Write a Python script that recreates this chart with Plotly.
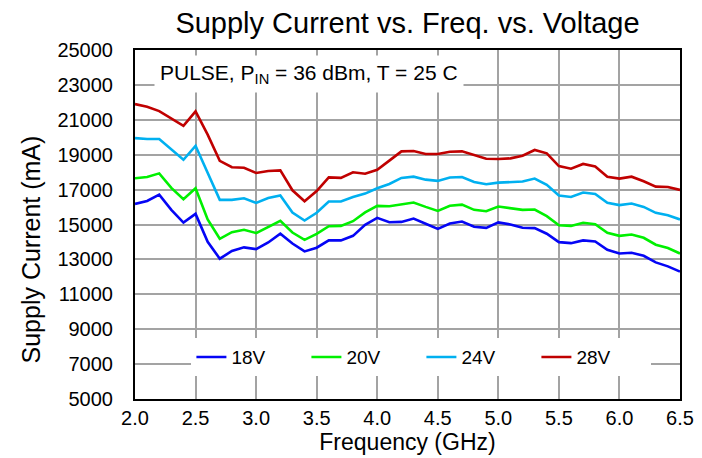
import plotly.graph_objects as go

freq = [2.0, 2.1, 2.2, 2.3, 2.4, 2.5, 2.6, 2.7, 2.8, 2.9,
        3.0, 3.1, 3.2, 3.3, 3.4, 3.5, 3.6, 3.7, 3.8, 3.9,
        4.0, 4.1, 4.2, 4.3, 4.4, 4.5, 4.6, 4.7, 4.8, 4.9,
        5.0, 5.1, 5.2, 5.3, 5.4, 5.5, 5.6, 5.7, 5.8, 5.9,
        6.0, 6.1, 6.2, 6.3, 6.4, 6.5]

i_18v = [16180, 16350, 16710, 15840, 15110, 15610, 14010, 13040, 13480, 13690,
         13590, 13970, 14470, 13910, 13460, 13670, 14090, 14090, 14350, 14980,
         15380, 15130, 15150, 15340, 15040, 14750, 15060, 15170, 14870, 14810,
         15120, 15000, 14810, 14790, 14470, 13990, 13930, 14090, 14030, 13550,
         13340, 13380, 13210, 12830, 12600, 12300]

i_20v = [17650, 17720, 17930, 17100, 16450, 17080, 15290, 14180, 14560, 14700,
         14510, 14850, 15210, 14540, 14120, 14460, 14900, 14920, 15190, 15690,
         16070, 16050, 16160, 16260, 16010, 15780, 16070, 16140, 15840, 15760,
         16030, 15950, 15840, 15860, 15480, 14960, 14920, 15100, 15020, 14520,
         14350, 14430, 14240, 13840, 13650, 13340]

i_24v = [19950, 19900, 19900, 19290, 18710, 19510, 17950, 16410, 16410, 16500,
         16240, 16520, 16660, 15690, 15230, 15670, 16320, 16320, 16580, 16770,
         17080, 17320, 17670, 17740, 17570, 17500, 17690, 17720, 17440, 17310,
         17400, 17420, 17460, 17630, 17270, 16660, 16580, 16830, 16750, 16240,
         16110, 16200, 16010, 15670, 15530, 15290]

i_28v = [21900, 21750, 21500, 21100, 20650, 21480, 20150, 18650, 18280, 18250,
         17950, 18070, 18100, 16960, 16330, 16920, 17700, 17670, 17990, 17910,
         18140, 18660, 19190, 19210, 19040, 19040, 19170, 19190, 18960, 18770,
         18750, 18790, 18940, 19270, 19080, 18350, 18200, 18470, 18330, 17740,
         17630, 17740, 17480, 17170, 17150, 16980]

series_names = ["18V", "20V", "24V", "28V"]
series_values = [i_18v, i_20v, i_24v, i_28v]
series_colors = ["#0505f5", "#00f000", "#00b0f0", "#c00000"]

x_ticks = [2.0, 2.5, 3.0, 3.5, 4.0, 4.5, 5.0, 5.5, 6.0, 6.5]
y_ticks = [5000, 7000, 9000, 11000, 13000, 15000, 17000, 19000, 21000, 23000, 25000]

FONT = "Liberation Sans, Arial, sans-serif"
W, H = 702, 458
ML, MR, MT, MB = 127, 30, 42, 67
PW, PH = W - ML - MR, H - MT - MB

fig = go.Figure()
for name, vals, col in zip(series_names, series_values, series_colors):
    fig.add_trace(go.Scatter(x=freq, y=vals, mode="lines", name=name,
                             line=dict(color=col, width=2.6)))

fig.update_layout(
    template="none",
    width=W, height=H,
    margin=dict(l=ML, r=MR, t=MT, b=MB, pad=0),
    paper_bgcolor="white", plot_bgcolor="white",
    font=dict(family=FONT, size=20, color="black"),
    title=dict(text="Supply Current vs. Freq. vs. Voltage",
               x=0.5, xref="paper", xanchor="center",
               y=1 - 15 / H, yref="container", yanchor="middle",
               font=dict(size=29, family=FONT, color="black")),
    showlegend=True,
    legend=dict(orientation="h", x=0.1035, xanchor="left",
                y=0.12, yanchor="middle",
                bgcolor="white", borderwidth=0,
                font=dict(size=19, family=FONT, color="black"),
                entrywidth=70, entrywidthmode="pixels",
                traceorder="normal"),
    xaxis=dict(range=[2.0, 6.5], tickvals=x_ticks, tickformat=".1f",
               showgrid=True, gridcolor="#a3a3a3", gridwidth=1.5,
               showline=True, linecolor="black", linewidth=2, mirror=True,
               ticks="", zeroline=False, automargin=False,
               title=dict(text="Frequency (GHz)", font=dict(size=23), standoff=6),
               tickfont=dict(size=20)),
    yaxis=dict(range=[5000, 25000], tickvals=y_ticks, tickformat="d",
               showgrid=True, gridcolor="#a3a3a3", gridwidth=1.5,
               showline=True, linecolor="black", linewidth=2, mirror=True,
               ticks="", zeroline=False, automargin=False, ticklabelstandoff=16,
               tickfont=dict(size=20)),
    annotations=[
        dict(text="PULSE, P<sub>IN</sub> = 36 dBm, T = 25 C",
             xref="paper", yref="paper", x=0.034, y=0.93,
             xanchor="left", yanchor="middle", showarrow=False,
             bgcolor="white", borderpad=5,
             font=dict(size=21, family=FONT, color="black")),
        dict(text="Supply Current (mA)", textangle=-90,
             xref="paper", yref="paper",
             x=(22.5 - ML) / PW, y=(H - MB - 242) / PH,
             xanchor="center", yanchor="middle", showarrow=False,
             font=dict(size=25, family=FONT, color="black")),
    ],
)

fig.write_html("out.html")
